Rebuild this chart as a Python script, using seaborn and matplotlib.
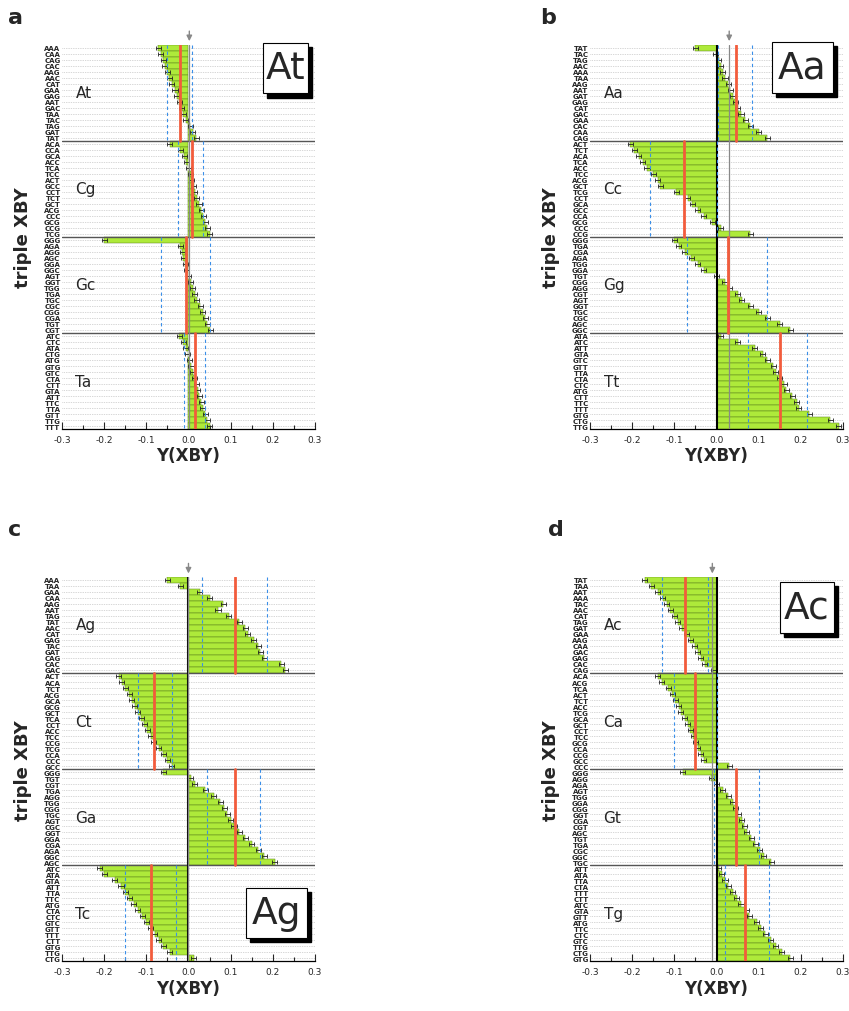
import numpy as np
import pandas as pd
import matplotlib
matplotlib.use('Agg')
import matplotlib.pyplot as plt
import seaborn as sns
from matplotlib.patches import Rectangle

sns.set_theme(style='white')
plt.rcParams['font.family'] = ['DejaVu Sans']

# ---------------- panel a ----------------
a_groups = ['At', 'Cg', 'Gc', 'Ta']
a_labels = ['AAA', 'CAA', 'CAG', 'CAC', 'AAG', 'AAC', 'CAT', 'GAA', 'GAG', 'AAT', 'GAC', 'TAA', 'TAC', 'TAG', 'GAT', 'TAT',
            'ACA', 'CCA', 'GCA', 'ACC', 'TCA', 'TCC', 'ACT', 'GCC', 'CCT', 'TCT', 'GCT', 'ACG', 'CCC', 'GCG', 'CCG', 'TCG',
            'GGG', 'AGA', 'AGG', 'AGC', 'GGA', 'GGC', 'AGT', 'GGT', 'TGG', 'TGA', 'TGC', 'CGC', 'CGG', 'CGA', 'TGT', 'CGT',
            'ATC', 'CTC', 'ATA', 'CTG', 'ATG', 'GTG', 'GTC', 'CTA', 'CTT', 'GTA', 'ATT', 'TTC', 'TTA', 'GTT', 'TTG', 'TTT']
a_values = [-0.072, -0.066, -0.060, -0.056, -0.050, -0.046, -0.040, -0.032, -0.028, -0.022, -0.016, -0.012, -0.006, 0.004, 0.010, 0.018,
            -0.045, -0.020, -0.010, -0.005, 0.000, 0.005, 0.008, 0.012, 0.015, 0.020, 0.025, 0.030, 0.035, 0.040, 0.045, 0.050,
            -0.200, -0.020, -0.015, -0.012, -0.008, -0.004, 0.000, 0.005, 0.010, 0.015, 0.020, 0.028, 0.034, 0.040, 0.045, 0.052,
            -0.022, -0.012, -0.006, -0.002, 0.002, 0.006, 0.010, 0.014, 0.018, 0.022, 0.026, 0.030, 0.034, 0.040, 0.045, 0.050]
a_means = [-0.020, 0.008, -0.005, 0.015]
a_lo = [-0.050, -0.025, -0.065, -0.010]
a_hi = [0.008, 0.035, 0.050, 0.040]
a_ref = 0.002

# ---------------- panel b ----------------
b_groups = ['Aa', 'Cc', 'Gg', 'Tt']
b_labels = ['TAT', 'TAC', 'TAG', 'AAC', 'AAA', 'TAA', 'AAG', 'AAT', 'GAT', 'GAG', 'CAT', 'GAC', 'GAA', 'CAC', 'CAA', 'CAG',
            'ACT', 'TCT', 'ACA', 'TCA', 'ACC', 'TCC', 'ACG', 'GCT', 'TCG', 'CCT', 'GCA', 'GCC', 'CCA', 'GCG', 'CCC', 'CCG',
            'GGG', 'TGA', 'CGA', 'AGA', 'TGG', 'GGA', 'TGT', 'CGG', 'AGG', 'CGT', 'AGT', 'GGT', 'TGC', 'CGC', 'AGC', 'GGC',
            'ATA', 'ATC', 'ATT', 'GTA', 'GTC', 'GTT', 'TTA', 'CTA', 'CTC', 'ATG', 'CTT', 'TTC', 'TTT', 'GTG', 'CTG', 'TTG']
b_values = [-0.050, -0.002, 0.005, 0.010, 0.015, 0.020, 0.028, 0.032, 0.038, 0.044, 0.050, 0.058, 0.068, 0.080, 0.100, 0.120,
            -0.205, -0.195, -0.185, -0.175, -0.165, -0.150, -0.140, -0.133, -0.095, -0.068, -0.058, -0.045, -0.030, -0.010, 0.010, 0.080,
            -0.100, -0.090, -0.075, -0.060, -0.045, -0.030, 0.000, 0.020, 0.030, 0.050, 0.060, 0.080, 0.100, 0.120, 0.150, 0.175,
            0.010, 0.050, 0.090, 0.110, 0.120, 0.135, 0.140, 0.150, 0.160, 0.165, 0.180, 0.190, 0.195, 0.220, 0.270, 0.290]
b_means = [0.045, -0.078, 0.028, 0.150]
b_lo = [0.004, -0.157, -0.070, 0.075]
b_hi = [0.085, 0.002, 0.120, 0.215]
b_ref = 0.030

# ---------------- panel c ----------------
c_groups = ['Ag', 'Ct', 'Ga', 'Tc']
c_labels = ['AAA', 'TAA', 'GAA', 'CAA', 'AAG', 'AAT', 'TAG', 'TAT', 'AAC', 'CAT', 'GAG', 'TAC', 'GAT', 'CAG', 'CAC', 'GAC',
            'ACT', 'ACA', 'TCT', 'ACG', 'GCA', 'GCG', 'GCT', 'TCA', 'CCT', 'ACC', 'TCC', 'CCG', 'TCG', 'CCA', 'CCC', 'GCC',
            'GGG', 'TGT', 'CGT', 'TGA', 'AGG', 'TGG', 'CGG', 'TGC', 'AGT', 'CGC', 'GGT', 'GGA', 'CGA', 'AGA', 'GGC', 'AGC',
            'ATC', 'ATA', 'GTA', 'ATT', 'TTA', 'TTC', 'ATG', 'CTA', 'CTC', 'GTC', 'GTT', 'TTT', 'CTT', 'GTG', 'TTG', 'CTG']
c_values = [-0.050, -0.020, 0.027, 0.050, 0.083, 0.070, 0.095, 0.120, 0.135, 0.140, 0.155, 0.165, 0.170, 0.180, 0.220, 0.230,
            -0.165, -0.158, -0.150, -0.140, -0.135, -0.128, -0.120, -0.112, -0.105, -0.098, -0.090, -0.082, -0.070, -0.060, -0.050, -0.040,
            -0.060, 0.005, 0.015, 0.040, 0.060, 0.075, 0.085, 0.092, 0.100, 0.108, 0.120, 0.135, 0.150, 0.165, 0.180, 0.205,
            -0.210, -0.200, -0.175, -0.160, -0.150, -0.140, -0.130, -0.120, -0.110, -0.100, -0.090, -0.080, -0.070, -0.060, -0.045, 0.012]
c_means = [0.110, -0.082, 0.110, -0.090]
c_lo = [0.033, -0.120, 0.045, -0.150]
c_hi = [0.187, -0.040, 0.170, -0.030]
c_ref = 0.0

# ---------------- panel d ----------------
d_groups = ['Ac', 'Ca', 'Gt', 'Tg']
d_labels = ['TAT', 'TAA', 'AAT', 'AAA', 'TAC', 'AAC', 'CAT', 'TAG', 'GAT', 'GAA', 'AAG', 'CAA', 'GAC', 'GAG', 'CAC', 'CAG',
            'ACA', 'ACG', 'TCA', 'ACT', 'TCT', 'ACC', 'TCG', 'GCA', 'GCT', 'CCT', 'TCC', 'GCG', 'CCA', 'CCG', 'GCC', 'CCC',
            'GGG', 'AGG', 'AGA', 'AGT', 'TGG', 'GGA', 'CGG', 'GGT', 'CGA', 'CGT', 'AGC', 'TGT', 'TGA', 'CGC', 'GGC', 'TGC',
            'ATT', 'ATA', 'TTA', 'CTA', 'TTT', 'CTT', 'ATC', 'GTA', 'GTT', 'ATG', 'TTC', 'CTC', 'GTC', 'TTG', 'CTG', 'GTG']
d_values = [-0.170, -0.155, -0.140, -0.128, -0.118, -0.110, -0.100, -0.092, -0.082, -0.072, -0.062, -0.052, -0.045, -0.038, -0.028, -0.008,
            -0.140, -0.130, -0.115, -0.105, -0.098, -0.090, -0.085, -0.075, -0.068, -0.062, -0.055, -0.050, -0.045, -0.038, -0.030, 0.030,
            -0.080, -0.012, 0.000, 0.015, 0.028, 0.038, 0.045, 0.052, 0.060, 0.066, 0.072, 0.082, 0.092, 0.102, 0.112, 0.130,
            0.005, 0.012, 0.020, 0.028, 0.038, 0.048, 0.058, 0.070, 0.078, 0.095, 0.105, 0.115, 0.128, 0.140, 0.155, 0.175]
d_means = [-0.075, -0.050, 0.045, 0.068]
d_lo = [-0.130, -0.100, -0.005, 0.020]
d_hi = [-0.020, 0.000, 0.100, 0.125]
d_ref = -0.010

x_ticks = [-0.3, -0.2, -0.1, 0.0, 0.1, 0.2, 0.3]
x_ticklabels = ['-0.3', '-0.2', '-0.1', '0.0', '0.1', '0.2', '0.3']
ERR = 0.006

GREEN = '#aeea3a'
RED = '#f25c3c'
BLUE = '#3b8fe8'


def draw(ax, labels, values, groups, means, lo, hi, ref, box_text, box_xy, letter, letter_xy, zero_black):
    df = pd.DataFrame({'triple': labels, 'Y': values})
    sns.barplot(data=df, x='Y', y='triple', orient='h', order=labels, color=GREEN,
                saturation=1, width=1.0, edgecolor='#5a7f1c', linewidth=0.35,
                errorbar=None, ax=ax, zorder=2)
    n = len(labels)
    ypos = np.arange(n)
    ax.errorbar(values, ypos, xerr=ERR, fmt='none', ecolor='#222222',
                elinewidth=0.6, capsize=1.6, capthick=0.6, zorder=4)
    for y in ypos:
        ax.axhline(y, color='#b0b0b0', ls=(0, (1, 1.5)), lw=0.5, zorder=0)
    for k in range(1, 4):
        ax.axhline(k * 16 - 0.5, color='#555555', lw=1.0, zorder=5)
    for k, g in enumerate(groups):
        y0, y1 = k * 16 - 0.5, k * 16 + 15.5
        ax.plot([means[k], means[k]], [y0, y1], color=RED, lw=2.0, zorder=6)
        ax.plot([lo[k], lo[k]], [y0, y1], color=BLUE, lw=0.8, ls=(0, (3, 2.5)), zorder=6)
        ax.plot([hi[k], hi[k]], [y0, y1], color=BLUE, lw=0.8, ls=(0, (3, 2.5)), zorder=6)
        ax.text(-0.268, k * 16 + 7.5, g, fontsize=11, va='center', ha='left', zorder=7)
    if zero_black:
        ax.axvline(0, color='black', lw=1.5, zorder=5)
    ax.axvline(ref, color='#888888', lw=0.9, zorder=5)
    ax.annotate('', xy=(ref, -0.6), xytext=(ref, -3.2),
                arrowprops=dict(arrowstyle='-|>', color='#888888', lw=1.0, mutation_scale=8),
                annotation_clip=False)
    ax.set_xlim(-0.3, 0.3)
    ax.set_ylim(n - 0.5, -0.5)
    ax.set_xticks(x_ticks)
    ax.set_xticklabels(x_ticklabels, fontsize=6.5)
    ax.set_xticks(np.arange(-0.25, 0.3, 0.1), minor=True)
    ax.tick_params(axis='x', which='major', direction='in', length=5, width=0.8, bottom=True, pad=4)
    ax.tick_params(axis='x', which='minor', direction='in', length=3, width=0.8, bottom=True)
    ax.tick_params(axis='y', length=0, pad=1)
    for lab in ax.get_yticklabels():
        lab.set_fontsize(5)
        lab.set_fontweight('bold')
    for s in ['top', 'right', 'left']:
        ax.spines[s].set_visible(False)
    ax.spines['bottom'].set_color('black')
    ax.spines['bottom'].set_linewidth(0.9)
    ax.set_xlabel('Y(XBY)', fontsize=12, fontweight='bold')
    ax.set_ylabel('triple XBY', fontsize=13, fontweight='bold')
    ax.xaxis.set_label_coords(0.5, -0.045)
    ax.yaxis.set_label_coords(-0.12, 0.5)
    # label box with shadow
    bx, by, bw, bh = box_xy
    ax.add_patch(Rectangle((bx + 0.016, by - 0.011), bw, bh, transform=ax.transAxes,
                           facecolor='black', edgecolor='black', zorder=8, clip_on=False))
    ax.add_patch(Rectangle((bx, by), bw, bh, transform=ax.transAxes,
                           facecolor='white', edgecolor='black', lw=0.8, zorder=9, clip_on=False))
    ax.text(bx + bw / 2, by + bh / 2, box_text, transform=ax.transAxes, fontsize=27,
            ha='center', va='center', zorder=10)
    ax.figure.text(letter_xy[0], letter_xy[1], letter, fontsize=16, fontweight='bold',
                   ha='left', va='top')


fig = plt.figure(figsize=(8.49, 10.12), dpi=100)
ax_a = fig.add_axes([0.073, 0.575, 0.298, 0.380])
ax_b = fig.add_axes([0.695, 0.575, 0.298, 0.380])
ax_c = fig.add_axes([0.073, 0.049, 0.298, 0.380])
ax_d = fig.add_axes([0.695, 0.049, 0.298, 0.380])

draw(ax_a, a_labels, a_values, a_groups, a_means, a_lo, a_hi, a_ref, 'At',
     (0.794, 0.873, 0.178, 0.132), 'a', (0.010, 0.992), False)
draw(ax_b, b_labels, b_values, b_groups, b_means, b_lo, b_hi, b_ref, 'Aa',
     (0.719, 0.875, 0.241, 0.132), 'b', (0.636, 0.992), True)
draw(ax_c, c_labels, c_values, c_groups, c_means, c_lo, c_hi, c_ref, 'Ag',
     (0.727, 0.062, 0.241, 0.130), 'c', (0.010, 0.486), True)
draw(ax_d, d_labels, d_values, d_groups, d_means, d_lo, d_hi, d_ref, 'Ac',
     (0.751, 0.855, 0.213, 0.132), 'd', (0.646, 0.486), True)

fig.savefig('out.png', dpi=100)
